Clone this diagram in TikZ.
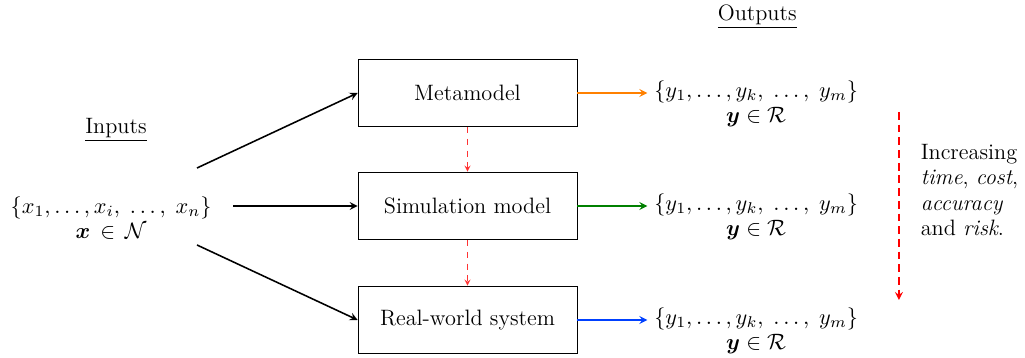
\RequirePackage{fix-cm}
\documentclass[tikz,border=0pt]{standalone}
\usepackage[dvipsnames]{xcolor}
\usepackage{amsmath}
\usepackage{bm}
\usepackage{tikz}
\usetikzlibrary{positioning, calc}

\definecolor{outorange}{RGB}{255,128,0}
\definecolor{outgreen}{RGB}{0,128,0}
\definecolor{outblue}{RGB}{0,64,255}

\begin{document}
\begin{tikzpicture}[every node/.style={font=\fontsize{11.4}{13}\selectfont}]
  \tikzstyle{coord}=[inner sep=0pt, outer sep=0pt, node distance=0pt]
  \tikzstyle{model}=[draw, rectangle, minimum width=3.94cm, minimum height=1.22cm, fill=white]
  \tikzstyle{feed}=[thick, -stealth]
  \tikzstyle{refine}=[red, dashed, -stealth]
  \useasboundingbox (0,0) rectangle (18.45, 6.444);

  % models, cheapest on top
  \node (meta) at (8.415, 4.77) [model] {Metamodel};
  \node (sim) at (8.415, 2.736) [model] {Simulation model};
  \node (real) at (8.415, 0.684) [model] {Real-world system};

  % inputs
  \node (inlabel) at (2.088, 4.104) {\underline{Inputs}};
  \node (inset) at (2.0, 2.52) [align=center] {$\{x_1, \dots, x_i, \;\dots, \; x_n\}$\\ $\bm{x} \, \in \, \mathcal{N}$};
  \coordinate (in1) at (3.546, 3.42);
  \coordinate (in2) at (4.194, 2.736);
  \coordinate (in3) at (3.546, 2.034);
  \draw[feed] (in1) -- (meta.west);
  \draw[feed] (in2) -- (sim.west);
  \draw[feed] (in3) -- (real.west);

  % outputs
  \node (outlabel) at (13.63, 6.138) {\underline{Outputs}};
  \node (out1) at (13.61, 4.572) [align=center] {$\{y_1, \dots, y_k, \;\dots, \; y_m\}$\\ $\bm{y} \in \mathcal{R}$};
  \node (out2) at (13.61, 2.538) [align=center] {$\{y_1, \dots, y_k, \;\dots, \; y_m\}$\\ $\bm{y} \in \mathcal{R}$};
  \node (out3) at (13.61, 0.486) [align=center] {$\{y_1, \dots, y_k, \;\dots, \; y_m\}$\\ $\bm{y} \in \mathcal{R}$};
  \draw[feed, outorange] (meta.east) -- (meta.east -| out1.west);
  \draw[feed, outgreen] (sim.east) -- (sim.east -| out2.west);
  \draw[feed, outblue] (real.east) -- (real.east -| out3.west);

  % between models
  \draw[refine, red!80] (meta.south) -- (sim.north);
  \draw[refine, red!80] (sim.south) -- (real.north);

  % trend
  \coordinate (trendtop) at (16.18, 4.428);
  \coordinate (trendbot) at (16.18, 1.044);
  \draw[red, thick, dash pattern=on 4pt off 2.5pt, -stealth] (trendtop) -- (trendbot);
  \node (trend) at (16.45, 3.024) [anchor=west, align=left] {Increasing\\ \textit{time}, \textit{cost},\\ \textit{accuracy}\\ and \textit{risk}.};
\end{tikzpicture}
\end{document}
